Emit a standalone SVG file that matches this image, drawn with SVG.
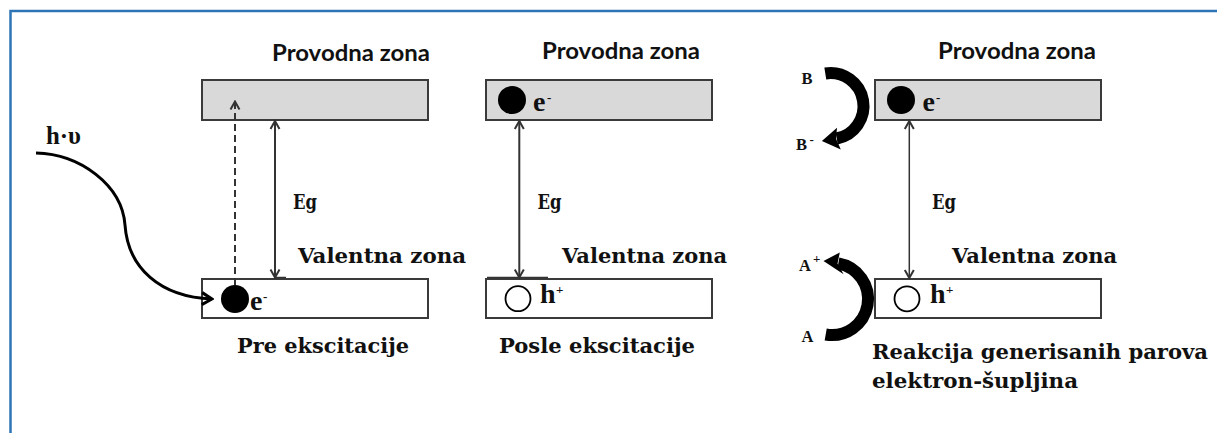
<svg xmlns="http://www.w3.org/2000/svg" width="1217" height="433" viewBox="0 0 1217 433">
<style>
.frame{fill:none;stroke:#2E75B6;stroke-width:2.5}
.cb{fill:#D9D9D9;stroke:#3a3a3a;stroke-width:2}
.vb{fill:#ffffff;stroke:#3a3a3a;stroke-width:2}
.dot{fill:#000}
.hole{fill:#fff;stroke:#000;stroke-width:1.8}
.zone{font-family:Lato,'Liberation Sans',sans-serif;font-weight:bold;font-size:22px;fill:#111}
.lbl{font-family:'DejaVu Serif','Liberation Serif',serif;font-weight:bold;font-size:21px;fill:#111}
.big{font-family:'Liberation Serif',serif;font-weight:bold;font-size:28px;fill:#111}
.hv{font-family:'Liberation Serif',serif;font-weight:bold;font-size:25px;fill:#111}
.sm{font-family:'Liberation Serif',serif;font-weight:bold;font-size:16.5px;fill:#111}
.sup{font-family:'Liberation Serif',serif;font-weight:bold;font-size:13px;fill:#111}
.gap{fill:none;stroke:#333;stroke-width:2}
.gapthin{fill:none;stroke:#333;stroke-width:1.5}
.dash{fill:none;stroke:#333;stroke-width:2;stroke-dasharray:7 4}
.thick{fill:none;stroke:#000;stroke-width:12}
</style>
<defs>
<marker id="chev" viewBox="-11 -7 13 14" refX="0" refY="0" markerWidth="13" markerHeight="14" markerUnits="userSpaceOnUse" orient="auto-start-reverse">
<path d="M-8,-4.5 L0,0 L-8,4.5" fill="none" stroke="#333" stroke-width="2"/>
</marker>
<marker id="chev2" viewBox="-13 -8 15 16" refX="0" refY="0" markerWidth="15" markerHeight="16" markerUnits="userSpaceOnUse" orient="auto">
<path d="M-10,-6 L0,0 L-10,6" fill="none" stroke="#000" stroke-width="3"/>
</marker>
</defs>
<path class="frame" d="M10.5,433 V11 H1217"/>

<g id="p1-conduction"><rect class="cb" x="202" y="80" width="226" height="40"/><text class="zone" x="272" y="61" textLength="158" lengthAdjust="spacingAndGlyphs">Provodna zona</text></g>
<g id="p1-valence"><rect class="vb" x="202" y="279" width="226" height="39"/><text class="lbl" x="298" y="263" textLength="168" lengthAdjust="spacingAndGlyphs">Valentna zona</text>
<circle class="dot" cx="235" cy="299" r="14"/><text class="big" x="250" y="310">e</text><text class="sup" x="263" y="301">-</text></g>
<g id="p1-photon"><text class="hv" x="46" y="144" textLength="35" lengthAdjust="spacingAndGlyphs">h·υ</text></g>
<g id="p1-eg"><text class="lbl" x="293" y="209" textLength="24" lengthAdjust="spacingAndGlyphs">Eg</text></g>
<g id="p1-caption"><text class="lbl" x="237" y="353" textLength="172" lengthAdjust="spacingAndGlyphs">Pre ekscitacije</text></g>

<g id="p2-conduction"><rect class="cb" x="486" y="80" width="226" height="40"/><text class="zone" x="542" y="59" textLength="158" lengthAdjust="spacingAndGlyphs">Provodna zona</text>
<circle class="dot" cx="512" cy="100" r="14"/><text class="big" x="533" y="111">e</text><text class="sup" x="547" y="102">-</text></g>
<g id="p2-valence"><rect class="vb" x="486" y="279" width="226" height="39"/><text class="lbl" x="562" y="263" textLength="165" lengthAdjust="spacingAndGlyphs">Valentna zona</text>
<circle class="hole" cx="518" cy="298.7" r="12.5"/><text class="big" x="540" y="303">h</text><text class="sup" x="556" y="294">+</text></g>
<g id="p2-eg"><text class="lbl" x="537.5" y="209" textLength="24" lengthAdjust="spacingAndGlyphs">Eg</text></g>
<g id="p2-caption"><text class="lbl" x="499" y="353" textLength="196" lengthAdjust="spacingAndGlyphs">Posle ekscitacije</text></g>

<g id="p3-conduction"><rect class="cb" x="875" y="80" width="226" height="40"/><text class="zone" x="938" y="59" textLength="158" lengthAdjust="spacingAndGlyphs">Provodna zona</text>
<circle class="dot" cx="901" cy="100" r="14"/><text class="big" x="922.5" y="111">e</text><text class="sup" x="936" y="102">-</text></g>
<g id="p3-valence"><rect class="vb" x="875" y="279" width="226" height="39"/><text class="lbl" x="952" y="263" textLength="165" lengthAdjust="spacingAndGlyphs">Valentna zona</text>
<circle class="hole" cx="907" cy="298.8" r="12.5"/><text class="big" x="930" y="303">h</text><text class="sup" x="946" y="294">+</text></g>
<g id="p3-eg"><text class="lbl" x="932" y="209" textLength="24" lengthAdjust="spacingAndGlyphs">Eg</text></g>
<g id="p3-B"><text class="sm" x="801.5" y="84">B</text></g>
<g id="p3-Bminus"><text class="sm" x="796" y="150">B</text><text class="sup" x="809.5" y="144">-</text></g>
<g id="p3-Aplus"><text class="sm" x="799" y="271">A</text><text class="sup" x="813" y="263">+</text></g>
<g id="p3-A"><text class="sm" x="801.5" y="342">A</text></g>
<g id="p3-caption"><text class="lbl" x="872" y="359" textLength="336" lengthAdjust="spacingAndGlyphs">Reakcija generisanih parova</text><text class="lbl" x="872" y="388" textLength="206" lengthAdjust="spacingAndGlyphs">elektron-šupljina</text></g>

<g id="connectors">
<path d="M36,153 C80,154 122,185 125,225 C128,268 160,297 212,299" fill="none" stroke="#000" stroke-width="3" marker-end="url(#chev2)"/>
<line class="dash" x1="235" y1="285" x2="235" y2="101.5" marker-end="url(#chev)"/>
<line class="gap" x1="275" y1="121" x2="275" y2="277.5" marker-start="url(#chev)" marker-end="url(#chev)"/>
<line x1="275" y1="277.5" x2="286" y2="277.5" stroke="#333" stroke-width="1.5"/>
<line class="gap" x1="519.3" y1="121" x2="519.3" y2="277.5" marker-start="url(#chev)" marker-end="url(#chev)"/>
<line x1="487" y1="277.5" x2="548" y2="277.5" stroke="#333" stroke-width="1.5"/>
<line class="gapthin" x1="909.3" y1="121" x2="909.3" y2="278" marker-start="url(#chev)" marker-end="url(#chev)"/>
<path class="thick" d="M825.3,73.5 A33,33 0 0 1 836.7,138.5"/>
<polygon points="821.9,141.1 840.8,149.6 836,138.7 837,127.8" fill="#000"/>
<path class="thick" d="M825.7,334.5 A36,36 0 0 0 838.3,263.5"/>
<polygon points="823.5,260.9 839.8,252.5 837.5,263.6 843.6,274.2" fill="#000"/>
</g>
</svg>
